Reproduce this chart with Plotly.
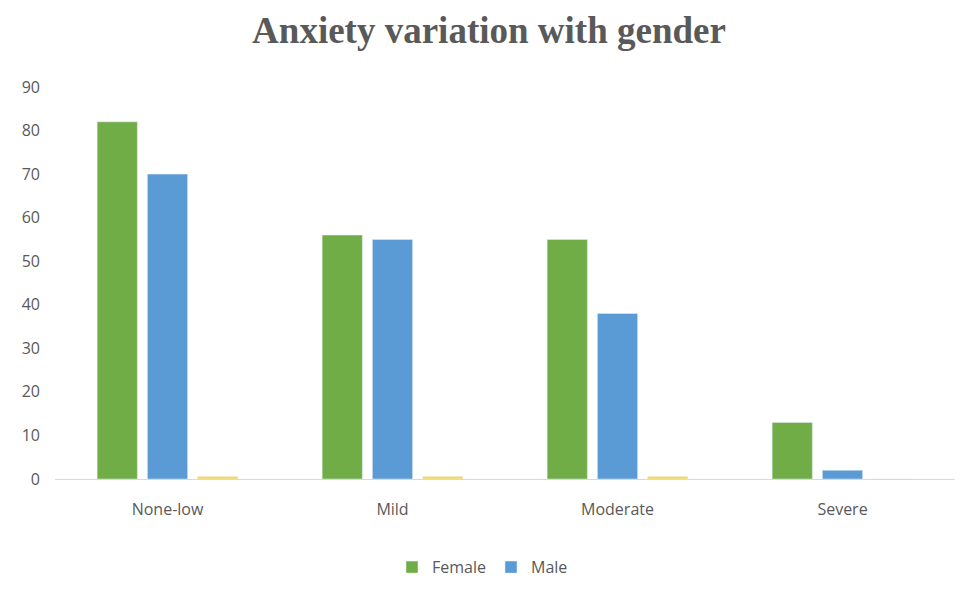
import plotly.graph_objects as go

categories = ["None-low", "Mild", "Moderate", "Severe"]
female = [82, 56, 55, 13]
male = [70, 55, 38, 2]
other = [0.6, 0.6, 0.6, 0]

fig = go.Figure()
fig.add_trace(go.Bar(x=categories, y=female, name="Female", marker_color="#70AD47"))
fig.add_trace(go.Bar(x=categories, y=male, name="Male", marker_color="#5B9BD5"))
fig.add_trace(go.Bar(x=categories, y=other, name="", marker_color="#F7D84A", showlegend=False))

fig.update_layout(
    width=978, height=594,
    paper_bgcolor="white", plot_bgcolor="white",
    margin=dict(l=55, r=23, t=87, b=115, autoexpand=False),
    barmode="group", bargap=0.33, bargroupgap=0.2,
    title=dict(text="<b>Anxiety variation with gender</b>", x=0.5, xanchor="center",
               y=0.95, yanchor="middle",
               font=dict(family="Liberation Serif", size=37, color="#595959")),
    font=dict(family="Open Sans", color="#595959", size=16),
    xaxis=dict(showline=True, linecolor="#D9D9D9", linewidth=1, ticks="",
               tickfont=dict(size=16, color="#595959"), showgrid=False,
               ticklabelstandoff=16),
    yaxis=dict(range=[0, 90], dtick=10, showgrid=False, zeroline=False, showline=False,
               tickfont=dict(size=16, color="#595959"), ticks="",
               ticklabelstandoff=14),
    legend=dict(orientation="h", x=0.475, xanchor="center", y=-0.225, yanchor="middle",
                font=dict(size=16, color="#595959"), itemwidth=30,
                tracegroupgap=0),
)
fig.write_html("out.html")
